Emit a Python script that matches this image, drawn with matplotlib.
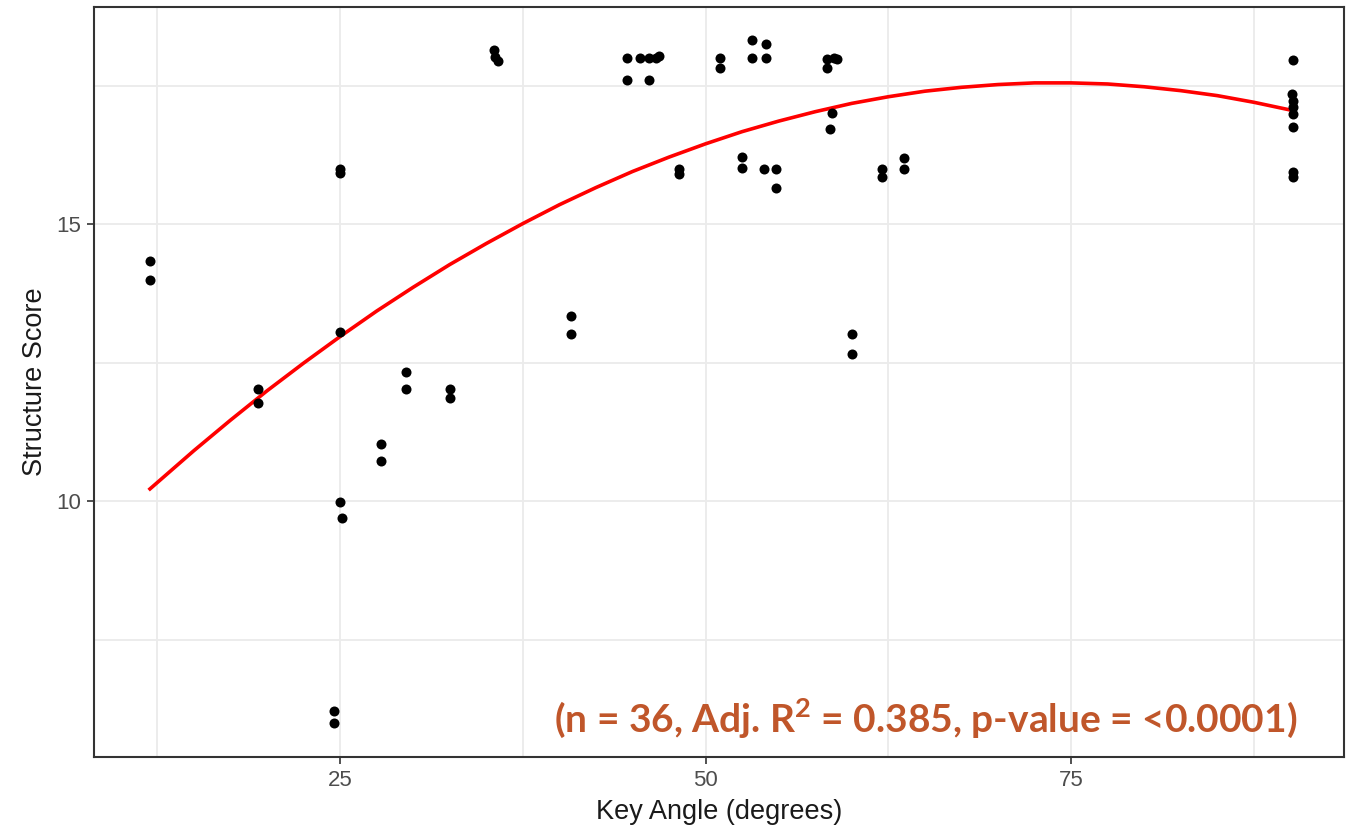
import matplotlib.pyplot as plt
import numpy as np

# data
angle = [12.0, 12.0, 19.4, 19.4, 24.6, 24.6, 25.0, 25.0, 25.0, 25.0, 25.15,
         27.8, 27.8, 29.5, 29.5, 32.5, 32.5, 35.5, 35.6, 35.8, 40.8, 40.8,
         44.6, 44.6, 45.5, 46.1, 46.1, 46.6, 46.8, 48.2, 48.2, 51.0, 51.0,
         52.5, 52.5, 53.2, 53.2, 54.0, 54.1, 54.1, 54.8, 54.8, 58.3, 58.3,
         58.8, 59.0, 58.65, 58.5, 60.0, 60.0, 62.1, 62.1, 63.6, 63.6,
         90.2, 90.1, 90.2, 90.2, 90.2, 90.2, 90.2, 90.2]
score = [14.33, 14.0, 12.02, 11.77, 6.21, 5.99, 16.0, 15.93, 13.05, 9.98, 9.69,
         11.03, 10.72, 12.33, 12.02, 12.02, 11.86, 18.14, 18.02, 17.95, 13.34, 13.01,
         18.0, 17.6, 18.0, 18.0, 17.6, 18.0, 18.04, 16.0, 15.9, 18.0, 17.82,
         16.21, 16.01, 18.32, 18.0, 16.0, 18.25, 18.0, 16.0, 15.65, 17.98, 17.82,
         18.0, 17.98, 17.0, 16.71, 13.01, 12.65, 16.0, 15.85, 16.19, 16.0,
         17.96, 17.35, 17.22, 17.11, 16.99, 16.75, 15.94, 15.85]

# fitted curve
fit_x = [12, 15, 17.5, 20, 22.5, 25, 27.5, 30, 32.5, 35, 37.5, 40, 42.5, 45,
         47.5, 50, 52.5, 55, 57.5, 60, 62.5, 65, 67.5, 70, 72.5, 75, 77.5,
         80, 82.5, 85, 87.5, 90]
fit_y = [10.22, 10.91, 11.46, 11.99, 12.49, 12.97, 13.43, 13.86, 14.27, 14.65,
         15.01, 15.35, 15.66, 15.95, 16.21, 16.45, 16.67, 16.86, 17.03, 17.18,
         17.30, 17.40, 17.47, 17.52, 17.55, 17.55, 17.53, 17.48, 17.41, 17.32,
         17.20, 17.06]

stats_label = "(n = 36, Adj. R$^{\\mathbf{2}}$ = 0.385, p-value = <0.0001)"

plt.rcParams['font.family'] = ['Liberation Sans', 'DejaVu Sans']

fig = plt.figure(figsize=(13.56, 8.33), dpi=100)
ax = fig.add_axes([0.0693, 0.0912, 0.9219, 0.9004])

ax.scatter(angle, score, s=52, color='black', zorder=3, linewidths=0)
ax.plot(fit_x, fit_y, color='red', lw=2.6, zorder=2)

ax.set_xlim(8.17, 93.67)
ax.set_ylim(5.38, 18.92)
ax.set_xticks([25, 50, 75])
ax.set_yticks([10, 15])
ax.set_xticks([12.5, 37.5, 62.5, 87.5], minor=True)
ax.set_yticks([7.5, 12.5, 17.5], minor=True)

ax.grid(True, which='both', color='#ebebeb', lw=1.3, zorder=0)
ax.set_axisbelow(True)
ax.tick_params(which='minor', length=0)
ax.tick_params(which='major', length=5, width=1.2, color='#333333',
               labelcolor='#4d4d4d', labelsize=16, pad=4)
for sp in ax.spines.values():
    sp.set_color('#333333')
    sp.set_linewidth(1.5)

ax.set_xlabel('Key Angle (degrees)', fontsize=19.5, color='#1a1a1a', labelpad=6)
ax.set_ylabel('Structure Score', fontsize=19.5, color='#1a1a1a', labelpad=6)

plt.rcParams['mathtext.fontset'] = 'custom'
plt.rcParams['mathtext.bf'] = 'Lato:bold'
ax.text(0.9624, 0.052, stats_label, transform=ax.transAxes, ha='right',
        va='center', fontsize=28, fontweight='bold', color='#c0562a',
        family=['Lato', 'DejaVu Sans'])

fig.savefig('out.png', dpi=100)
